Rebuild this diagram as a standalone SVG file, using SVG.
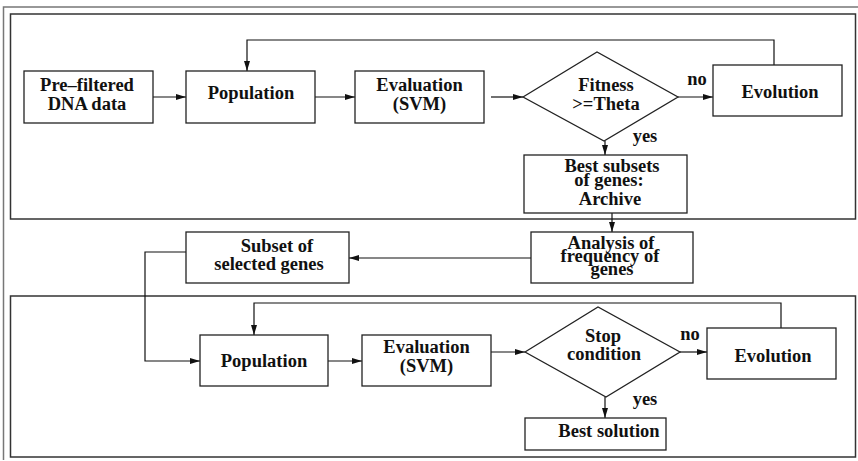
<svg xmlns="http://www.w3.org/2000/svg" width="858" height="461" viewBox="0 0 858 461">
<style>
.box{fill:#fff;stroke:#222;stroke-width:1.3}
.frame{fill:none;stroke:#333;stroke-width:1.5}
.ln{fill:none;stroke:#111;stroke-width:1.2}
text{font-family:"Liberation Serif","Times New Roman",serif;font-weight:bold;font-size:18.5px;fill:#111;text-anchor:middle}
.tight{font-size:17px}
</style>
<defs>
<marker id="ah" viewBox="0 0 10 6" refX="10" refY="3" markerWidth="10" markerHeight="6" markerUnits="userSpaceOnUse" orient="auto">
<path d="M0,0 L10,3 L0,6 Z" fill="#111"/>
</marker>
</defs>
<rect width="858" height="461" fill="#fff"/>
<path d="M3.5,460 V7 H858" fill="none" stroke="#777" stroke-width="1.5"/>
<rect class="frame" x="10.5" y="14" width="845" height="205"/>
<rect class="frame" x="10.5" y="296" width="845" height="161"/>

<g id="connectors">
<line class="ln" x1="153" y1="97" x2="186" y2="97" marker-end="url(#ah)"/>
<line class="ln" x1="315" y1="97" x2="355" y2="97" marker-end="url(#ah)"/>
<line class="ln" x1="491" y1="97" x2="523" y2="97" marker-end="url(#ah)"/>
<line class="ln" x1="678" y1="97" x2="713" y2="97" marker-end="url(#ah)"/>
<path class="ln" d="M774,65 V40 H247 V71" marker-end="url(#ah)"/>
<line class="ln" x1="605" y1="141" x2="605" y2="155" marker-end="url(#ah)"/>
<line class="ln" x1="612" y1="213" x2="612" y2="232" marker-end="url(#ah)"/>
<line class="ln" x1="531" y1="258" x2="349" y2="258" marker-end="url(#ah)"/>
<path class="ln" d="M186,252 H145 V361 H200" marker-end="url(#ah)"/>
<line class="ln" x1="328" y1="361" x2="362" y2="361" marker-end="url(#ah)"/>
<line class="ln" x1="491" y1="352" x2="525" y2="352" marker-end="url(#ah)"/>
<line class="ln" x1="680" y1="352" x2="707" y2="352" marker-end="url(#ah)"/>
<path class="ln" d="M781,328 V303 H254 V335" marker-end="url(#ah)"/>
<line class="ln" x1="605" y1="397" x2="605" y2="418" marker-end="url(#ah)"/>
<text x="697" y="85">no</text>
<text x="645" y="142">yes</text>
<text x="690" y="340">no</text>
<text x="645" y="405">yes</text>
</g>

<g id="prefiltered">
<rect class="box" x="24" y="71" width="129" height="52"/>
<text x="87" y="91">Pre–filtered</text>
<text x="87" y="110">DNA data</text>
</g>
<g id="population1">
<rect class="box" x="186" y="71" width="129" height="52"/>
<text x="251" y="99">Population</text>
</g>
<g id="evaluation1">
<rect class="box" x="355" y="71" width="129" height="52"/>
<text x="419.5" y="91">Evaluation</text>
<text x="419.5" y="110">(SVM)</text>
</g>
<g id="fitness">
<polygon class="box" points="523,97 597,52 678,97 604,141"/>
<text x="606" y="91">Fitness</text>
<text x="606" y="110">&gt;=Theta</text>
</g>
<g id="evolution1">
<rect class="box" x="713" y="65" width="129" height="51"/>
<text x="780" y="98">Evolution</text>
</g>
<g id="archive">
<rect class="box" x="524" y="155" width="163" height="58"/>
<text x="612" y="172">Best subsets</text>
<text x="609" y="186">of genes:</text>
<text x="610" y="205">Archive</text>
</g>
<g id="analysis">
<rect class="box" x="531" y="232" width="162" height="51"/>
<text x="611" y="249">Analysis of</text>
<text x="610" y="262">frequency of</text>
<text x="612" y="275">genes</text>
</g>
<g id="subset">
<rect class="box" x="186" y="232" width="163" height="51"/>
<text x="277" y="252">Subset of</text>
<text x="269" y="270">selected genes</text>
</g>
<g id="population2">
<rect class="box" x="200" y="335" width="128" height="51"/>
<text x="264" y="367">Population</text>
</g>
<g id="evaluation2">
<rect class="box" x="362" y="335" width="129" height="51"/>
<text x="426.5" y="353">Evaluation</text>
<text x="426.5" y="372">(SVM)</text>
</g>
<g id="stop">
<polygon class="box" points="525,352 598,307 680,352 606,397"/>
<text x="603" y="342">Stop</text>
<text x="604" y="360">condition</text>
</g>
<g id="evolution2">
<rect class="box" x="707" y="328" width="129" height="51"/>
<text x="773" y="362">Evolution</text>
</g>
<g id="bestsolution">
<rect class="box" x="525" y="418" width="141" height="32"/>
<text x="609" y="437">Best solution</text>
</g>
</svg>
